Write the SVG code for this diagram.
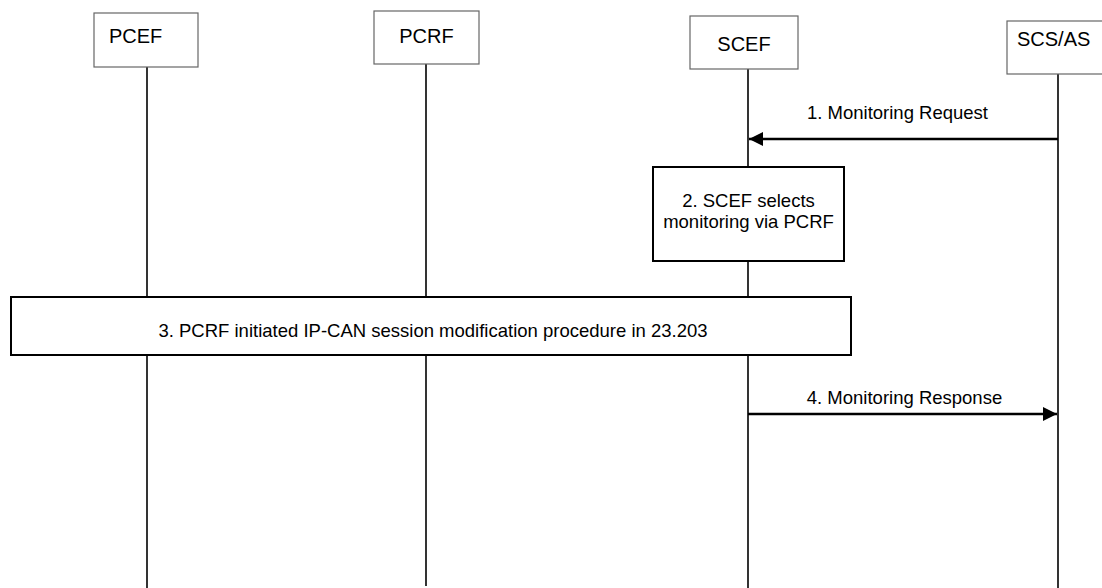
<svg xmlns="http://www.w3.org/2000/svg" width="1102" height="588" viewBox="0 0 1102 588">
<style>
.node{fill:#fff;stroke:#666;stroke-width:1.2}
.box{fill:#fff;stroke:#000;stroke-width:2}
.life{stroke:#000;stroke-width:1.6;fill:none}
.msg{stroke:#000;stroke-width:2.5;fill:none}
.t{font-family:"Liberation Sans",Arial,sans-serif;font-size:20px;fill:#000}
.l{font-family:"Liberation Sans",Arial,sans-serif;font-size:18.5px;fill:#000}
</style>
<defs>
<marker id="ah" viewBox="0 0 10 10" refX="10" refY="5" markerWidth="15" markerHeight="14" markerUnits="userSpaceOnUse" orient="auto">
<path d="M0,0 L10,5 L0,10 z" fill="#000"/>
</marker>
</defs>
<g id="lifelines">
<line class="life" x1="147" y1="67" x2="147" y2="588"/>
<line class="life" x1="426" y1="64" x2="426" y2="586"/>
<line class="life" x1="748" y1="69" x2="748" y2="588"/>
<line class="life" x1="1058" y1="74" x2="1058" y2="588"/>
</g>
<g id="PCEF"><rect class="node" x="94" y="13" width="104" height="54"/><text class="t" x="109" y="43">PCEF</text></g>
<g id="PCRF"><rect class="node" x="374" y="11" width="105" height="53"/><text class="t" x="426.5" y="43" text-anchor="middle">PCRF</text></g>
<g id="SCEF"><rect class="node" x="690" y="16" width="108" height="53"/><text class="t" x="744" y="51" text-anchor="middle">SCEF</text></g>
<g id="SCSAS"><rect class="node" x="1007" y="21" width="104" height="53"/><text class="t" x="1017" y="46">SCS/AS</text></g>
<g id="step2"><rect class="box" x="653" y="167" width="191" height="94"/>
<text class="l" x="748.5" y="207" text-anchor="middle">2. SCEF selects</text>
<text class="l" x="748.5" y="228" text-anchor="middle">monitoring via PCRF</text></g>
<g id="step3"><rect class="box" x="11" y="297" width="840" height="58"/>
<text class="l" x="433" y="337" text-anchor="middle">3. PCRF initiated IP-CAN session modification procedure in 23.203</text></g>
<g id="connectors">
<line class="msg" x1="1058" y1="139" x2="749" y2="139" marker-end="url(#ah)"/>
<text class="l" x="897.5" y="119" text-anchor="middle">1. Monitoring Request</text>
<line class="msg" x1="748" y1="414" x2="1057" y2="414" marker-end="url(#ah)"/>
<text class="l" x="904.5" y="404" text-anchor="middle">4. Monitoring Response</text>
</g>
</svg>
